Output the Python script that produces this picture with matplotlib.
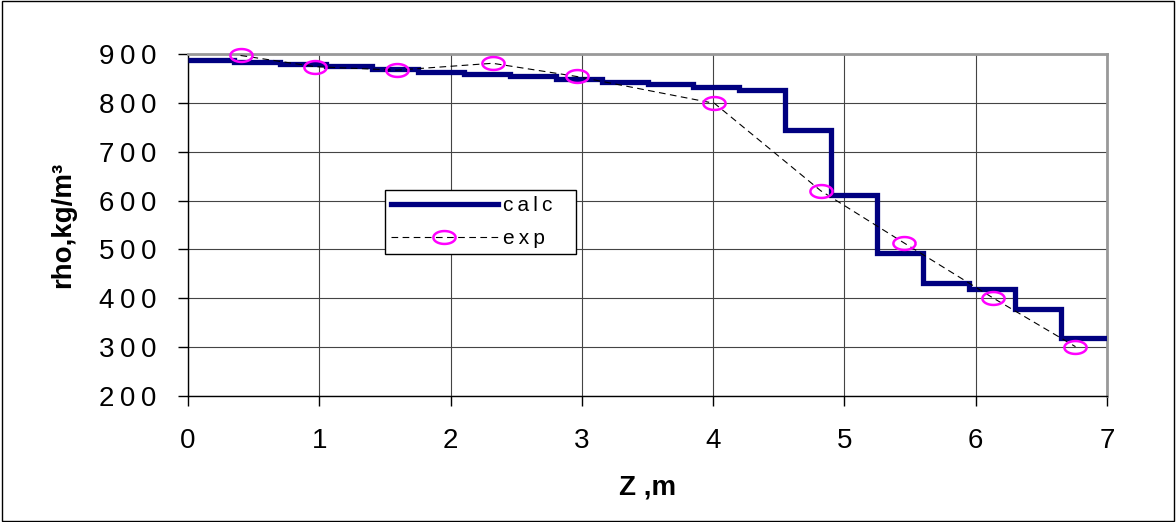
import matplotlib
matplotlib.use("Agg")
import matplotlib.pyplot as plt
import matplotlib.patches as mpatches
from matplotlib.path import Path
import numpy as np

# calculated density, piecewise constant over cells
z_edges = [0.0, 0.35, 0.70, 1.05, 1.40, 1.75, 2.10, 2.45, 2.80, 3.15, 3.50,
           3.85, 4.20, 4.55, 4.90, 5.25, 5.60, 5.95, 6.30, 6.65, 7.00]
rho_calc = [888, 884, 880, 875, 869, 864, 859, 854, 849, 843,
            838, 833, 826, 744, 611, 493, 431, 419, 378, 319]

# experimental points
z_exp = [0.40, 0.97, 1.59, 2.32, 2.96, 4.01, 4.82, 5.45, 6.13, 6.76]
rho_exp = [897, 874, 867, 881, 854, 799, 620, 514, 401, 301]

x_ticks = [0, 1, 2, 3, 4, 5, 6, 7]
y_ticks = [200, 300, 400, 500, 600, 700, 800, 900]

plt.rcParams['font.family'] = ['Liberation Sans', 'DejaVu Sans']

TS = '\u2009'  # thin space, mimics Excel's wide character spacing


def spaced(s):
    return TS.join(str(s))


fig = plt.figure(figsize=(11.76, 5.22), dpi=100)
ax = fig.add_axes([188 / 1176, 1 - 396 / 522, 919 / 1176, 342 / 522])

# flat ellipse marker like the Excel one
t = np.linspace(0, 2 * np.pi, 60)
ell = Path(np.column_stack([np.cos(t), 0.58 * np.sin(t)]))

ax.stairs(rho_calc, z_edges, color='#000080', linewidth=3.8,
          label=spaced('calc'), baseline=None, zorder=3)
ax.plot(z_exp, rho_exp, color='black', linestyle=(0, (6, 4)), linewidth=0.8,
        marker=ell, markersize=16, markerfacecolor='none',
        markeredgecolor='#ff00ff', markeredgewidth=1.8, label=spaced('exp'),
        zorder=4, clip_on=False)

ax.set_xlim(0, 7)
ax.set_ylim(200, 900)
ax.set_xticks(x_ticks)
ax.set_xticklabels([spaced(v) for v in x_ticks])
ax.set_yticks(y_ticks)
ax.set_yticklabels([spaced(v) for v in y_ticks])
ax.grid(True, color='#444444', linewidth=0.8)
ax.set_axisbelow(True)
ax.tick_params(labelsize=20, length=7, width=1, direction='out', pad=16)

for s in ['top', 'right']:
    ax.spines[s].set_color('#999999')
    ax.spines[s].set_linewidth(2)
for s in ['left', 'bottom']:
    ax.spines[s].set_color('black')
    ax.spines[s].set_linewidth(1)

ax.set_xlabel('Z ,m', fontsize=20, fontweight='bold', labelpad=15)
ax.set_ylabel('rho,kg/m³', fontsize=20, fontweight='bold', labelpad=16)

leg = ax.legend(loc='lower left', bbox_to_anchor=(0.2144, 0.415, 0.2078, 0.21),
                mode='expand', fontsize=15, frameon=True, fancybox=False,
                handlelength=5.1, handletextpad=0.25, borderpad=0.3,
                labelspacing=0.65, borderaxespad=0)
leg.get_frame().set_edgecolor('black')
leg.get_frame().set_linewidth(1)
leg.get_frame().set_alpha(1)

# outer frame of the chart
fig.patches.append(mpatches.Rectangle((0.0015, 0.002), 0.997, 0.996,
                                      transform=fig.transFigure, fill=False,
                                      edgecolor='black', linewidth=1))

fig.savefig('out.png', dpi=100)
plt.close(fig)
